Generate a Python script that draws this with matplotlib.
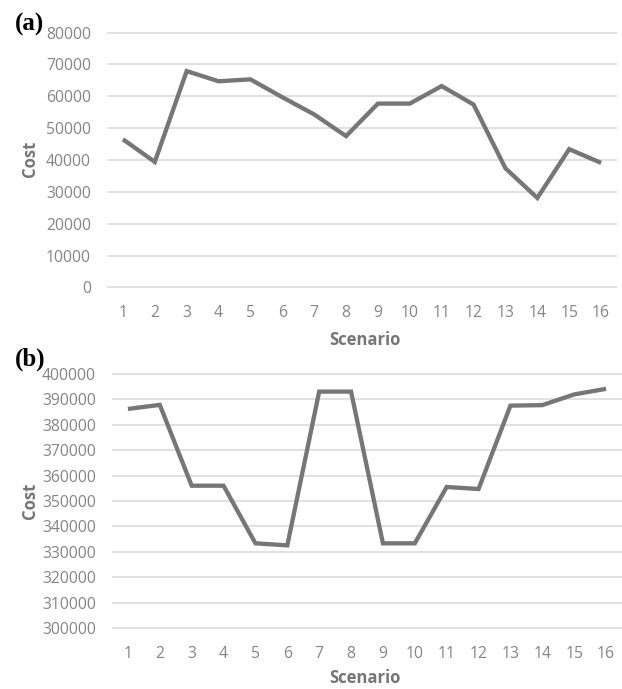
"""
Cost per scenario, two stacked Excel-style line charts (a) and (b).
Output: out.png
"""

import matplotlib
matplotlib.use("Agg")
import matplotlib.pyplot as plt

plt.rcParams["font.family"] = "Open Sans"

W, H = 622, 689
LINE = "#767676"
TICK = "#858585"
GRID = "#d9d9d9"

scenarios = list(range(1, 17))

cost_a = [46500, 39400, 67900, 64700, 65300, 59700, 54300, 47500,
          57700, 57700, 63200, 57400, 37400, 28100, 43400, 39100]
yticks_a = list(range(0, 80001, 10000))

cost_b = [386100, 387700, 356000, 356000, 333400, 332600, 392900, 392900,
          333400, 333400, 355500, 354700, 387400, 387600, 391800, 394000]
yticks_b = list(range(300000, 400001, 10000))


def px_axes(fig, left, top, right, bottom):
    # place an axes by pixel box (from top-left corner)
    return fig.add_axes([left / W, 1 - bottom / H, (right - left) / W, (bottom - top) / H])


fig = plt.figure(figsize=(W / 100, H / 100), dpi=100)
fig.patch.set_facecolor("white")

panels = [
    (px_axes(fig, 107, 32, 617, 288), cost_a, yticks_a, "(a)", 24, 159, 340),
    (px_axes(fig, 112, 373, 622, 629), cost_b, yticks_b, "(b)", 359, 501, 678),
]

for ax, cost, yticks, tag, tag_y, cost_y, scen_y in panels:
    ax.plot(scenarios, cost, color=LINE, linewidth=3.1, solid_joinstyle="miter",
            solid_capstyle="butt", zorder=3)
    ax.set_xlim(0.5, 16.5)
    span = yticks[-1] - yticks[0]
    ax.set_ylim(yticks[0] - span * 0.002, yticks[-1] + span * 0.002)
    ax.set_yticks(yticks)
    ax.set_yticklabels([str(v) for v in yticks])
    ax.set_xticks(scenarios)
    ax.set_xticklabels([str(s) for s in scenarios])
    ax.tick_params(axis="both", length=0, labelsize=11.3, colors=TICK)
    ax.tick_params(axis="y", pad=11.5)
    ax.tick_params(axis="x", pad=12)
    ax.grid(axis="y", color=GRID, linewidth=1.1)
    ax.grid(axis="x", visible=False)
    ax.set_axisbelow(True)
    for spine in ax.spines.values():
        spine.set_visible(False)

    fig.text(30 / W, 1 - cost_y / H, "Cost", rotation=90, ha="center", va="center",
             fontsize=12, fontweight="bold", color=LINE)
    fig.text(365 / W, 1 - scen_y / H, "Scenario", ha="center", va="center",
             fontsize=12, fontweight="bold", color=LINE)
    fig.text(15 / W, 1 - tag_y / H, tag, ha="left", va="center",
             fontsize=18, fontweight="bold", family="Liberation Serif", color="black")

fig.savefig("out.png", dpi=100, facecolor="white")
